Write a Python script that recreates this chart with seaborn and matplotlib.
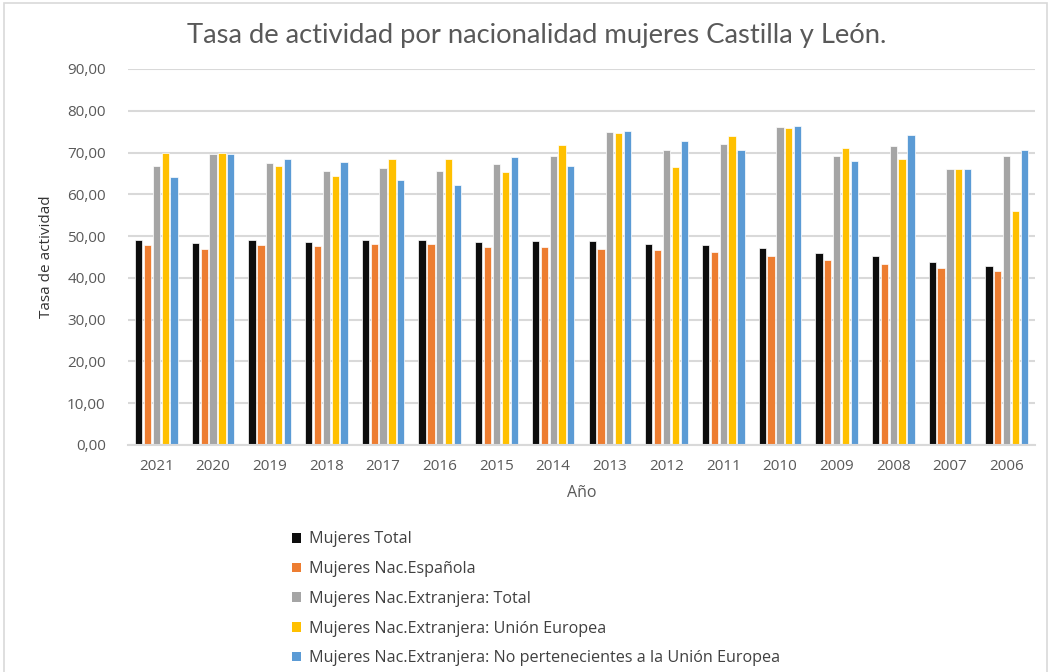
import matplotlib
matplotlib.use("Agg")
import matplotlib.pyplot as plt
import matplotlib.patches as mpatches
import seaborn as sns
import pandas as pd
from matplotlib.ticker import FuncFormatter, MultipleLocator

years = ["2021", "2020", "2019", "2018", "2017", "2016", "2015", "2014",
         "2013", "2012", "2011", "2010", "2009", "2008", "2007", "2006"]
series_names = [
    "Mujeres Total",
    "Mujeres Nac.Española",
    "Mujeres Nac.Extranjera: Total",
    "Mujeres Nac.Extranjera: Unión Europea",
    "Mujeres Nac.Extranjera: No pertenecientes a la Unión Europea",
]
mujeres_total = [49.0, 48.4, 49.0, 48.6, 49.0, 49.0, 48.6, 48.8, 48.8, 48.1, 47.9, 47.2, 46.0, 45.2, 43.9, 42.8]
nac_espanola = [47.9, 46.9, 47.9, 47.6, 48.1, 48.1, 47.4, 47.4, 47.0, 46.6, 46.2, 45.2, 44.4, 43.4, 42.4, 41.6]
ext_total = [66.8, 69.7, 67.5, 65.7, 66.4, 65.5, 67.2, 69.1, 74.9, 70.5, 72.1, 76.1, 69.1, 71.6, 66.1, 69.2]
ext_ue = [69.9, 69.9, 66.8, 64.3, 68.5, 68.5, 65.3, 71.9, 74.7, 66.5, 73.9, 75.9, 71.1, 68.5, 66.1, 56.1]
ext_no_ue = [64.1, 69.7, 68.5, 67.7, 63.5, 62.2, 68.9, 66.7, 75.2, 72.8, 70.7, 76.4, 67.9, 74.1, 66.1, 70.7]
colors = ["#0d0d0d", "#ed7d31", "#a5a5a5", "#ffc000", "#5b9bd5"]

rows = []
for name, vals in zip(series_names, [mujeres_total, nac_espanola, ext_total, ext_ue, ext_no_ue]):
    for y, v in zip(years, vals):
        rows.append({"Año": y, "Serie": name, "Valor": v})
df = pd.DataFrame(rows)

sns.set_theme(style="white")
plt.rcParams["font.family"] = ["Open Sans", "DejaVu Sans"]

fig = plt.figure(figsize=(10.48, 6.72), dpi=100)
ax = fig.add_axes([128 / 1048, 1 - 445 / 672, (1035 - 128) / 1048, (445 - 69) / 672])

sns.barplot(data=df, x="Año", y="Valor", hue="Serie", order=years,
            hue_order=series_names, palette=colors, width=0.78, gap=0.18,
            saturation=1, ax=ax, legend=False, edgecolor="white", linewidth=0.5)

ax.set_ylim(0, 90)
ax.yaxis.set_major_locator(MultipleLocator(10))
ax.yaxis.set_major_formatter(FuncFormatter(lambda v, p: f"{v:.2f}".replace(".", ",")))
ax.grid(axis="y", color="#d9d9d9", linewidth=1.5)
ax.set_axisbelow(True)
for s in ["top", "right", "left"]:
    ax.spines[s].set_visible(False)
ax.spines["bottom"].set_color("#d9d9d9")
ax.spines["bottom"].set_linewidth(1.5)
ax.tick_params(axis="x", length=0, labelsize=11, colors="#595959", pad=10)
ax.tick_params(axis="y", length=0, labelsize=11, colors="#595959", pad=16)
ax.set_xlabel("Año", fontsize=11.5, color="#595959", labelpad=8)
ax.set_ylabel("")
ax.set_xlim(-0.5, len(years) - 0.5)

fig.text(47 / 1048, 1 - 257 / 672, "Tasa de actividad", rotation=90,
         ha="center", va="center", fontsize=11, color="#333333")

fig.text(537 / 1048, 1 - 36 / 672, "Tasa de actividad por nacionalidad mujeres Castilla y León.",
         ha="center", va="center", fontsize=19.7, color="#595959", family=["Lato", "DejaVu Sans"])

handles = [mpatches.Patch(facecolor=c, edgecolor="none") for c in colors]
fig.legend(handles, series_names, loc="upper left",
           bbox_to_anchor=(286 / 1048, 1 - 525 / 672), frameon=False,
           fontsize=11.6, labelcolor="#404040", handlelength=0.55, handleheight=0.55,
           handletextpad=0.45, labelspacing=0.85, borderaxespad=0)

# chart frame
fig.patches.append(mpatches.Rectangle((4 / 1048, -0.01), 1 - 4 / 1048 - 0.0005, 1 - 3 / 672 + 0.01,
                                      transform=fig.transFigure, fill=False,
                                      edgecolor="#d9d9d9", linewidth=1.2))

fig.savefig("out.png", dpi=100, facecolor="white")
